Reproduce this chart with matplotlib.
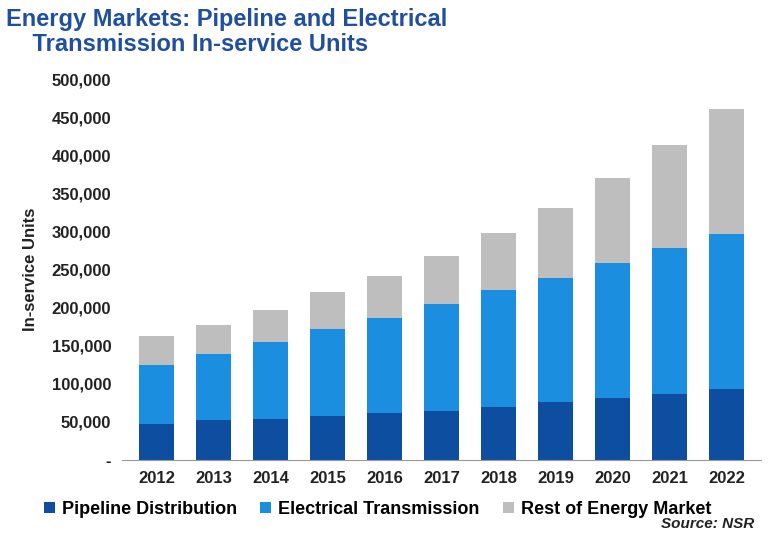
import matplotlib
matplotlib.use("Agg")
import matplotlib.pyplot as plt
import numpy as np

plt.rcParams['font.family'] = ['Liberation Sans', 'DejaVu Sans']

years = ["2012","2013","2014","2015","2016","2017","2018","2019","2020","2021","2022"]
pipeline = [47000, 52000, 54000, 58000, 62000, 64000, 70000, 76000, 81000, 87000, 93000]
electrical = [78000, 87000, 101000, 114000, 124000, 141000, 153000, 163000, 178000, 191000, 204000]
rest = [38000, 38000, 42000, 48000, 55000, 63000, 75000, 92000, 111000, 135000, 164000]

c1, c2, c3 = "#0d4ea1", "#1b8ee0", "#bebebe"
fig = plt.figure(figsize=(7.74, 5.38), dpi=100)
ax = fig.add_axes([0.158, 0.145, 0.825, 0.708])
x = np.arange(len(years))
w = 0.62
ax.bar(x, pipeline, w, color=c1, label="Pipeline Distribution")
ax.bar(x, electrical, w, bottom=pipeline, color=c2, label="Electrical Transmission")
bot = np.array(pipeline) + np.array(electrical)
ax.bar(x, rest, w, bottom=bot, color=c3, label="Rest of Energy Market")
ax.set_ylim(0, 500000)
ax.set_xlim(-0.6, len(years) - 0.4)
ticks = np.arange(0, 500001, 50000)
ax.set_yticks(ticks)
ax.set_yticklabels(["-"] + [f"{t:,}" for t in ticks[1:]])
ax.set_xticks(x)
ax.set_xticklabels(years)
ax.tick_params(labelsize=12, length=0, colors="#222222", pad=8)
for lab in ax.get_xticklabels() + ax.get_yticklabels():
    lab.set_fontweight("bold")
for s in ["top", "right", "left"]:
    ax.spines[s].set_visible(False)
ax.spines["bottom"].set_color("#999999")
ax.set_ylabel("In-service Units", fontsize=12, fontweight="bold", color="#222222", labelpad=10)
fig.text(0.008, 0.985, "Energy Markets: Pipeline and Electrical\n    Transmission In-service Units",
         fontsize=17, fontweight="bold", color="#1f4f9e", va="top", linespacing=1.1)
ax.legend(loc="upper center", bbox_to_anchor=(0.40, -0.065), ncol=3, frameon=False,
          fontsize=13, handlelength=0.6, handleheight=0.6, columnspacing=1.3, handletextpad=0.4,
          prop={'weight': 'bold', 'size': 13})
fig.text(0.975, 0.018, "Source: NSR", fontsize=11, fontweight="bold", style="italic",
         ha="right", color="#222222")
fig.savefig("out.png", dpi=100)
